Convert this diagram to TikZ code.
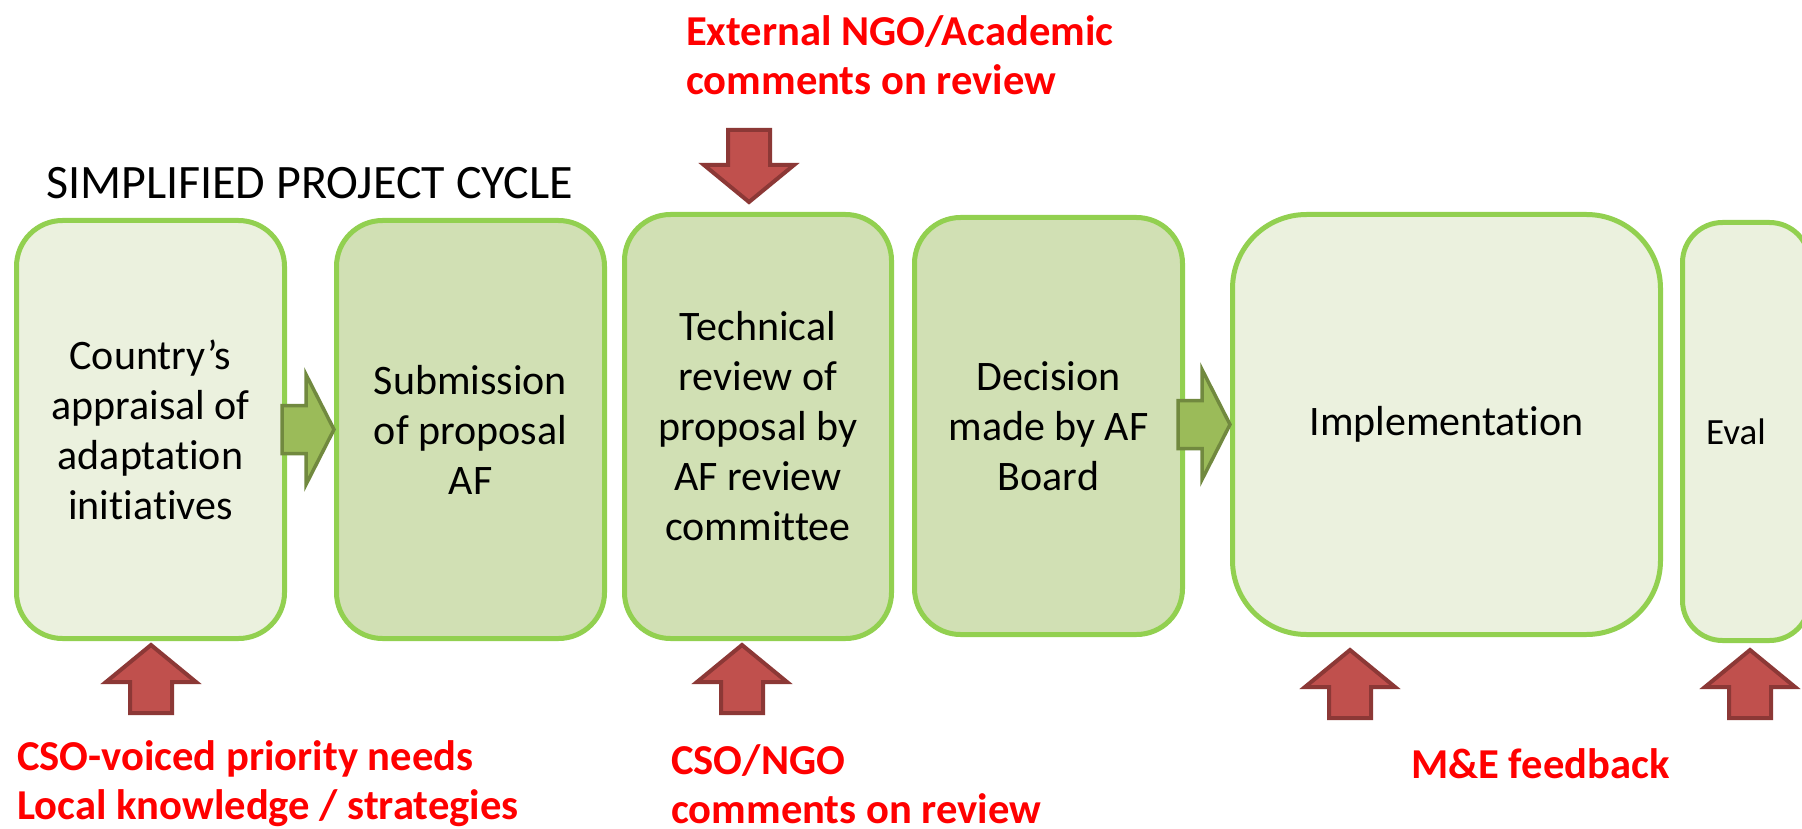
\documentclass[tikz,border=0pt]{standalone}
\usepackage{fontspec}
\setmainfont[Ligatures={NoCommon}]{Carlito}
\definecolor{boxborder}{HTML}{92D050}
\definecolor{lightfill}{HTML}{EBF1DE}
\definecolor{darkfill}{HTML}{D1E0B4}
\definecolor{garrowfill}{HTML}{9BBB59}
\definecolor{garrowdraw}{HTML}{71893F}
\definecolor{rarrowfill}{HTML}{C0504D}
\definecolor{rarrowdraw}{HTML}{8C3836}
\definecolor{redtext}{HTML}{FF0000}
\begin{document}
\begin{tikzpicture}[x=1pt,y=-1pt,
  stage/.style={draw=boxborder, line width=5pt, rounded corners=46pt, align=center,
    font=\fontsize{42}{50}\selectfont, inner sep=0pt},
  lightstage/.style={stage, fill=lightfill},
  darkstage/.style={stage, fill=darkfill},
  redlabel/.style={text=redtext, font=\bfseries\fontsize{42.6}{49}\selectfont, align=left, inner sep=0pt},
  redarrow/.style={fill=rarrowfill, draw=rarrowdraw, line width=4pt, miter limit=10},
  greenarrow/.style={fill=garrowfill, draw=garrowdraw, line width=3.5pt},
  uparrow/.pic={\draw[redarrow] (0,0) -- (45,37) -- (21,37) -- (21,68) -- (-21,68) -- (-21,37) -- (-45,37) -- cycle;},
  downarrow/.pic={\draw[redarrow] (0,0) -- (45,-37) -- (21,-37) -- (21,-72) -- (-21,-72) -- (-21,-37) -- (-45,-37) -- cycle;},
  rightarrow/.pic={\draw[greenarrow] (0,0) -- (-28,-55) -- (-28,-24) -- (-52,-24) -- (-52,24) -- (-28,24) -- (-28,55) -- cycle;}
]
\useasboundingbox (0,0) rectangle (1802,829);
\clip (0,0) rectangle (1802,829);
\fill[white] (0,0) rectangle (1802,829);

% title
\node[anchor=base west, font=\fontsize{48}{56}\selectfont, inner sep=0pt] (title) at (46,199) {SIMPLIFIED PROJECT CYCLE};

% stages
\node[lightstage, minimum width=268pt, minimum height=418pt] (b1) at (150.5,429.5)
  {Country’s\\appraisal of\\adaptation\\initiatives};
\node[darkstage, minimum width=268pt, minimum height=418pt] (b2) at (470.5,429.5)
  {Submission\\of proposal\\AF};
\node[darkstage, minimum width=267pt, minimum height=424pt] (b3) at (758,426.5)
  {Technical\\review of\\proposal by\\AF review\\committee};
\node[darkstage, minimum width=268pt, minimum height=417pt] (b4) at (1048.5,426)
  {Decision\\made by AF\\Board};
\node[lightstage, rounded corners=74pt, minimum width=428pt, minimum height=420pt] (b5) at (1446.5,424.5)
  {Implementation};
\node[lightstage, rounded corners=40pt, minimum width=127pt, minimum height=418pt] (b6) at (1746,431.5) {};
\node[font=\fontsize{37}{44}\selectfont, inner sep=0pt] (t6) at (1736,431.5) {Eval};

% green flow arrows
\pic at (b2.west) {rightarrow};
\pic at (b5.west) {rightarrow};

% red input arrows
\coordinate (d3) at (749,202);
\pic at (d3) {downarrow};
\coordinate (u1) at (151,645);
\coordinate (u3) at (742,645);
\coordinate (u5) at (1350,650);
\coordinate (u6) at (1750,650);
\pic at (u1) {uparrow};
\pic at (u3) {uparrow};
\pic at (u5) {uparrow};
\pic at (u6) {uparrow};

% red labels
\node[redlabel, anchor=west] (ext) at (686,55) {External NGO/Academic\\comments on review};
\node[redlabel, anchor=west] (cso) at (17,784) {CSO-voiced priority needs\\Local knowledge / strategies};
\node[redlabel, anchor=west] (ngo) at (671,784) {CSO/NGO\\comments on review};
\node[redlabel, anchor=west] (me) at (1411,764) {M\&E feedback};
\end{tikzpicture}
\end{document}
